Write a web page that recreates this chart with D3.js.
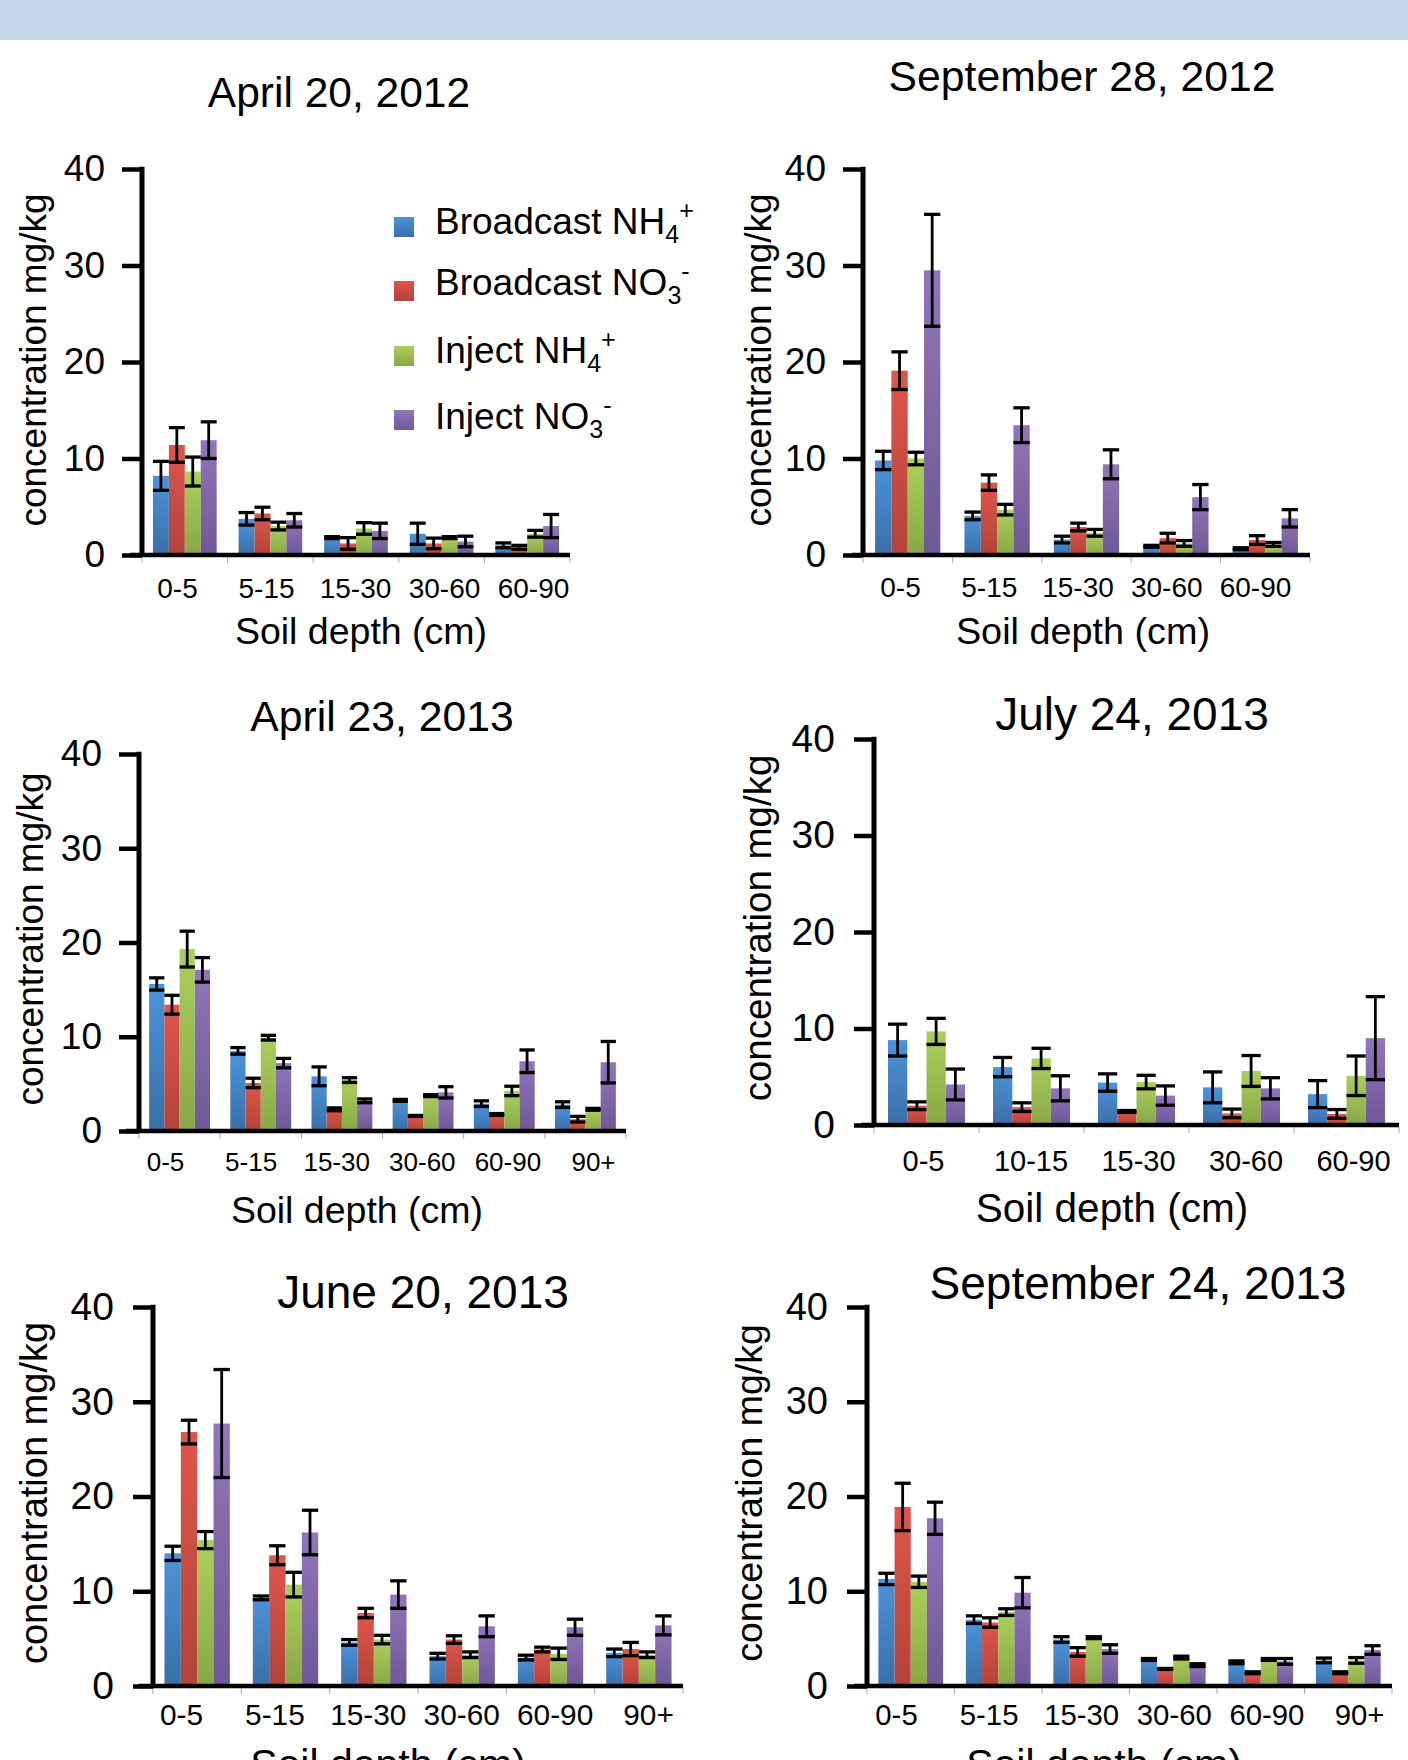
<!DOCTYPE html>
<html><head><meta charset="utf-8">
<script src="https://cdn.jsdelivr.net/npm/d3@7"></script>
<style>
html,body{margin:0;padding:0;background:#fff;}
svg{display:block;font-family:"Liberation Sans", Arial, Helvetica, sans-serif;}
</style></head>
<body>
<svg id="chart" width="1408" height="1760"></svg>
<script>
// ---------------- DATA ----------------
const seriesBase = ["Broadcast NH", "Broadcast NO", "Inject NH", "Inject NO"];
const seriesSub  = ["4", "3", "4", "3"];
const seriesSup  = ["+", "-", "+", "-"];
const yTicks = [0, 10, 20, 30, 40];

const titles = ["April 20, 2012", "September 28, 2012", "April 23, 2013",
                "July 24, 2013", "June 20, 2013", "September 24, 2013"];

const cats5   = ["0-5", "5-15", "15-30", "30-60", "60-90"];
const cats6   = ["0-5", "5-15", "15-30", "30-60", "60-90", "90+"];
const catsJul = ["0-5", "10-15", "15-30", "30-60", "60-90"];

// rows: Broadcast NH4+, Broadcast NO3-, Inject NH4+, Inject NO3-
const apr2012Mean = [
  [8.2, 3.75, 1.8, 2.2, 1.0],
  [11.4, 4.3, 1.2, 1.2, 0.8],
  [8.65, 3.0, 2.75, 1.8, 2.2],
  [11.9, 3.6, 2.5, 1.4, 3.0]
];
const apr2012Err = [
  [1.5, 0.65, 0.1, 1.1, 0.25],
  [1.8, 0.65, 0.6, 0.55, 0.2],
  [1.5, 0.4, 0.6, 0.1, 0.35],
  [1.9, 0.7, 0.8, 0.55, 1.2]
];
const sep2012Mean = [
  [9.8, 4.05, 1.6, 0.9, 0.65],
  [19.1, 7.5, 2.9, 1.75, 1.55],
  [10.0, 4.7, 2.3, 1.2, 1.1],
  [29.5, 13.45, 9.4, 6.0, 3.8]
];
const sep2012Err = [
  [0.95, 0.4, 0.35, 0.1, 0.1],
  [1.95, 0.8, 0.4, 0.5, 0.45],
  [0.65, 0.55, 0.35, 0.3, 0.2],
  [5.8, 1.8, 1.5, 1.3, 0.9]
];
const apr2013Mean = [
  [15.6, 8.5, 5.8, 3.25, 2.9, 2.8],
  [13.4, 5.1, 2.3, 1.6, 1.75, 1.25],
  [19.3, 9.9, 5.4, 3.75, 4.25, 2.3],
  [17.1, 7.2, 3.2, 4.1, 7.4, 7.3]
];
const apr2013Err = [
  [0.65, 0.35, 1.0, 0.1, 0.3, 0.3],
  [1.0, 0.5, 0.15, 0.05, 0.1, 0.3],
  [1.9, 0.25, 0.25, 0.1, 0.5, 0.1],
  [1.3, 0.5, 0.2, 0.6, 1.2, 2.2]
];
const jul2013Mean = [
  [8.8, 6.0, 4.4, 3.9, 3.2],
  [2.0, 1.85, 1.4, 1.2, 1.15],
  [9.7, 6.9, 4.45, 5.6, 5.1],
  [4.2, 3.8, 3.05, 3.8, 9.0]
];
const jul2013Err = [
  [1.65, 1.0, 0.9, 1.6, 1.4],
  [0.4, 0.45, 0.1, 0.45, 0.45],
  [1.35, 1.05, 0.7, 1.6, 2.05],
  [1.6, 1.3, 1.0, 1.1, 4.3]
];
const jun2013Mean = [
  [14.0, 9.3, 4.6, 3.15, 3.0, 3.5],
  [26.8, 13.8, 7.7, 4.9, 3.85, 3.9],
  [15.4, 10.7, 4.9, 3.3, 3.4, 3.3],
  [27.7, 16.2, 9.65, 6.3, 6.2, 6.4]
];
const jun2013Err = [
  [0.75, 0.2, 0.3, 0.3, 0.25, 0.4],
  [1.25, 1.0, 0.5, 0.4, 0.25, 0.7],
  [0.9, 1.3, 0.45, 0.3, 0.6, 0.3],
  [5.7, 2.35, 1.45, 1.1, 0.85, 1.0]
];
const sep2013Mean = [
  [11.3, 7.0, 4.9, 2.8, 2.5, 2.7],
  [18.9, 6.7, 3.6, 1.8, 1.4, 1.4],
  [11.0, 7.8, 5.1, 3.0, 2.8, 2.7],
  [17.7, 9.85, 3.9, 2.2, 2.6, 3.8]
];
const sep2013Err = [
  [0.6, 0.4, 0.3, 0.1, 0.15, 0.25],
  [2.5, 0.5, 0.45, 0.05, 0.1, 0.1],
  [0.6, 0.35, 0.1, 0.15, 0.1, 0.3],
  [1.7, 1.6, 0.45, 0.15, 0.3, 0.45]
];

// ---------------- STYLE / LAYOUT ----------------
const seriesColors = [
  ["#4c93db", "#3a6fa8"],
  ["#de564b", "#b2433a"],
  ["#abd05b", "#89a648"],
  ["#9275bb", "#6e5896"]
];
const FONT = "'Liberation Sans', Arial, Helvetica, sans-serif";

const panels = [
  {title: titles[0], cats: cats5, mean: apr2012Mean, err: apr2012Err,
   ax: 142, xEnd: 570, xStart: 130, y0: 555, y40: 169, pad: 0.256,
   tickFont: 37, tickPad: 17, catFont: 28, catBase: 598, labFirst: 177, labLast: 533,
   tx: 339, tBase: 107, tFont: 42.5, ylx: 35, yly: 360, ylFont: 37,
   xtx: 361, xtBase: 644, xtFont: 37.5, legend: true},
  {title: titles[1], cats: cats5, mean: sep2012Mean, err: sep2012Err,
   ax: 863, xEnd: 1310, xStart: 852, y0: 555, y40: 169, pad: 0.27,
   tickFont: 37, tickPad: 17, catFont: 28, catBase: 597, labFirst: 900, labLast: 1255,
   tx: 1082, tBase: 91, tFont: 42.7, ylx: 760, yly: 360, ylFont: 37,
   xtx: 1083, xtBase: 644, xtFont: 37.8},
  {title: titles[2], cats: cats6, mean: apr2013Mean, err: apr2013Err,
   ax: 139, xEnd: 626, xStart: 126, y0: 1131, y40: 754, pad: 0.25,
   tickFont: 37, tickPad: 17, catFont: 26, catBase: 1171, labFirst: 165, labLast: 593,
   tx: 382, tBase: 731, tFont: 42.7, ylx: 32, yly: 939, ylFont: 37,
   xtx: 357, xtBase: 1223, xtFont: 37.5},
  {title: titles[3], cats: catsJul, mean: jul2013Mean, err: jul2013Err,
   ax: 874, xEnd: 1399, xStart: 861, y0: 1125, y40: 739, pad: 0.267,
   tickFont: 39, tickPad: 19, catFont: 29, catBase: 1171, labFirst: 923, labLast: 1353,
   tx: 1132, tBase: 730, tFont: 46, ylx: 759, yly: 928, ylFont: 38.5,
   xtx: 1112, xtBase: 1222, xtFont: 40.5},
  {title: titles[4], cats: cats6, mean: jun2013Mean, err: jun2013Err,
   ax: 153, xEnd: 683, xStart: 139, y0: 1686, y40: 1307, pad: 0.26,
   tickFont: 39, tickPad: 19, catFont: 29.8, catBase: 1725, labFirst: 181, labLast: 648,
   tx: 423, tBase: 1308, tFont: 46, ylx: 36, yly: 1493, ylFont: 38,
   xtx: 388, xtBase: 1778, xtFont: 41},
  {title: titles[5], cats: cats6, mean: sep2013Mean, err: sep2013Err,
   ax: 867, xEnd: 1392, xStart: 854, y0: 1686, y40: 1307, pad: 0.26,
   tickFont: 38, tickPad: 19, catFont: 29.3, catBase: 1725, labFirst: 896, labLast: 1359,
   tx: 1138, tBase: 1299, tFont: 46, ylx: 751, yly: 1493, ylFont: 37.5,
   xtx: 1104, xtBase: 1778, xtFont: 41}
];

// ---------------- DRAW ----------------
const svg = d3.select("#chart");
const defs = svg.append("defs");
seriesColors.forEach((c, i) => {
  const g = defs.append("linearGradient").attr("id", "grad" + i)
    .attr("x1", 0).attr("y1", 0).attr("x2", 0).attr("y2", 1);
  g.append("stop").attr("offset", "0%").attr("stop-color", c[0]);
  g.append("stop").attr("offset", "100%").attr("stop-color", c[1]);
});

svg.append("rect").attr("x", 0).attr("y", 0).attr("width", 1408).attr("height", 40)
  .attr("fill", "#c5d8ec");

function drawPanel(p) {
  const g = svg.append("g");
  const x = d3.scaleBand().domain(p.cats).range([p.ax, p.xEnd])
    .paddingInner(p.pad).paddingOuter(p.pad / 2);
  const xs = d3.scaleBand().domain(d3.range(4)).range([0, x.bandwidth()]);
  const xl = d3.scalePoint().domain(p.cats).range([p.labFirst, p.labLast]);
  const y = d3.scaleLinear().domain([0, 40]).range([p.y0, p.y40]);

  const rows = p.cats.flatMap((c, ci) => p.mean.map((arr, s) =>
    ({c, s, v: arr[ci], e: p.err[s][ci]})));

  // bars
  g.selectAll("rect.bar").data(rows).join("rect").attr("class", "bar")
    .attr("x", d => x(d.c) + xs(d.s))
    .attr("y", d => y(d.v))
    .attr("width", xs.bandwidth())
    .attr("height", d => y(0) - y(d.v))
    .attr("fill", d => "url(#grad" + d.s + ")");

  // error bars
  const eg = g.selectAll("g.err").data(rows).join("g").attr("class", "err")
    .attr("stroke", "#000");
  const cx = d => x(d.c) + xs(d.s) + xs.bandwidth() / 2;
  const hw = xs.bandwidth() / 2;
  eg.append("line").attr("stroke-width", 2.8).attr("x1", cx).attr("x2", cx)
    .attr("y1", d => y(d.v + d.e)).attr("y2", d => y(Math.max(0, d.v - d.e)));
  eg.append("line").attr("stroke-width", 3.3).attr("x1", d => cx(d) - hw).attr("x2", d => cx(d) + hw)
    .attr("y1", d => y(d.v + d.e)).attr("y2", d => y(d.v + d.e));
  eg.append("line").attr("stroke-width", 3.3).attr("x1", d => cx(d) - hw).attr("x2", d => cx(d) + hw)
    .attr("y1", d => y(Math.max(0, d.v - d.e))).attr("y2", d => y(Math.max(0, d.v - d.e)));

  // small gray separators under axis
  const step = x.step();
  g.selectAll("line.sep").data(d3.range(p.cats.length + 1)).join("line").attr("class", "sep")
    .attr("x1", i => p.ax + i * step).attr("x2", i => p.ax + i * step)
    .attr("y1", p.y0 + 2).attr("y2", p.y0 + 8)
    .attr("stroke", "#aaa").attr("stroke-width", 1);

  // y axis
  const yAxis = d3.axisLeft(y).tickValues(yTicks).tickSize(20).tickPadding(p.tickPad);
  const ya = g.append("g").attr("transform", `translate(${p.ax},0)`).call(yAxis);
  ya.select(".domain").remove();
  ya.selectAll(".tick line").attr("stroke", "#000").attr("stroke-width", 4.5);
  ya.selectAll(".tick text").attr("font-family", FONT).attr("font-size", p.tickFont).attr("fill", "#000");
  g.append("line").attr("x1", p.ax).attr("x2", p.ax).attr("y1", p.y40 - 2.2).attr("y2", p.y0 + 2)
    .attr("stroke", "#000").attr("stroke-width", 5);

  // x axis (category labels)
  const xAxis = d3.axisBottom(xl).tickSize(0).tickPadding(0);
  const xa = g.append("g").attr("transform", `translate(0,${p.y0})`).call(xAxis);
  xa.select(".domain").remove();
  xa.selectAll(".tick text").attr("font-family", FONT).attr("font-size", p.catFont)
    .attr("fill", "#000").attr("y", p.catBase - p.y0).attr("dy", 0);
  g.append("line").attr("x1", p.xStart).attr("x2", p.xEnd).attr("y1", p.y0).attr("y2", p.y0)
    .attr("stroke", "#000").attr("stroke-width", 4.5);

  // title
  g.append("text").attr("x", p.tx).attr("y", p.tBase).attr("text-anchor", "middle")
    .attr("font-family", FONT).attr("font-size", p.tFont).text(p.title);
  // y label
  g.append("text").attr("transform", `translate(${p.ylx},${p.yly}) rotate(-90)`)
    .attr("text-anchor", "middle").attr("dy", "0.3em")
    .attr("font-family", FONT).attr("font-size", p.ylFont).text("concentration mg/kg");
  // x title
  g.append("text").attr("x", p.xtx).attr("y", p.xtBase).attr("text-anchor", "middle")
    .attr("font-family", FONT).attr("font-size", p.xtFont).text("Soil depth (cm)");

  if (p.legend) {
    const sqY = [217, 281, 346, 410];
    const txtY = [234, 295, 363, 429];
    const lg = g.append("g");
    seriesBase.forEach((name, i) => {
      lg.append("rect").attr("x", 394).attr("y", sqY[i]).attr("width", 20).attr("height", 20)
        .attr("fill", "url(#grad" + i + ")");
      const t = lg.append("text").attr("x", 435).attr("y", txtY[i])
        .attr("font-family", FONT).attr("font-size", 37);
      t.append("tspan").text(name);
      t.append("tspan").attr("font-size", 25).attr("dy", 9).text(seriesSub[i]);
      t.append("tspan").attr("font-size", 25).attr("dy", -24).text(seriesSup[i]);
    });
  }
}

panels.forEach(drawPanel);
</script>
</body></html>
